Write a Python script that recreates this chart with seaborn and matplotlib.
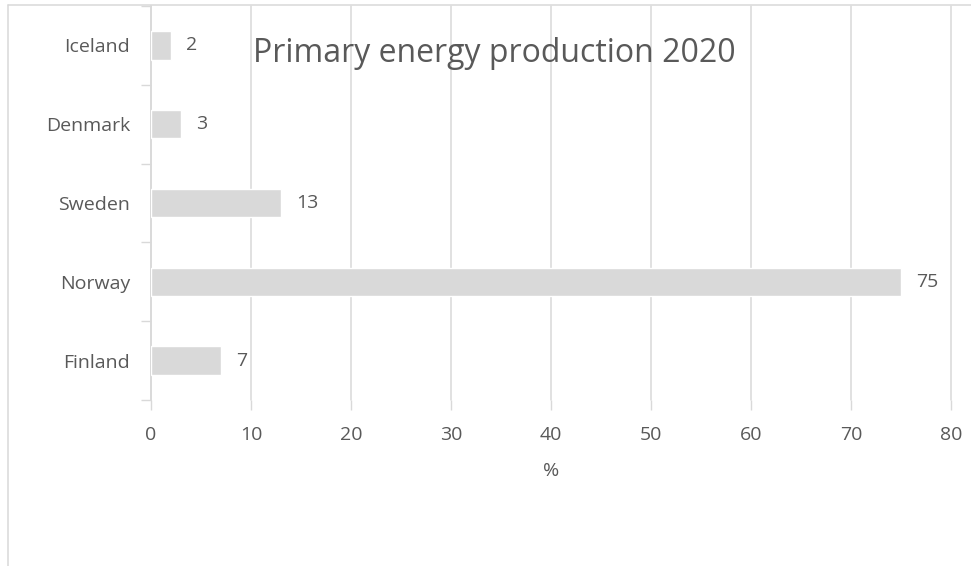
import matplotlib
matplotlib.use("Agg")
import matplotlib.pyplot as plt
import seaborn as sns
import pandas as pd
import numpy as np
from matplotlib.lines import Line2D

countries = ["Iceland", "Denmark", "Sweden", "Norway", "Finland"]
values = [2, 3, 13, 75, 7]
xticks = [0, 10, 20, 30, 40, 50, 60, 70, 80]
title = "Primary energy production 2020"
xlabel = "%"

sns.set_theme(style="white")
plt.rcParams["font.family"] = ["Open Sans", "DejaVu Sans"]

W, H = 971, 566
fig = plt.figure(figsize=(W / 100, H / 100), dpi=100)
ax = fig.add_axes([151 / W, 1 - 400 / H, (951 - 151) / W, (400 - 6) / H])

df = pd.DataFrame({"country": countries, "value": values})
grid_c = "#d9d9d9"
text_c = "#595959"
fs = 14

sns.barplot(data=df, x="value", y="country", order=countries, orient="h",
            color=grid_c, saturation=1, width=0.36, ax=ax, zorder=3)

ax.set_xlim(0, 80)
ax.set_ylim(4.5, -0.5)
ax.set_xticks(xticks)
ax.set_xticklabels([str(t) for t in xticks], color=text_c, fontsize=fs)
ax.tick_params(axis="x", length=7, color=grid_c, width=1.0, pad=11.5, bottom=True)
ax.set_yticks(range(len(countries)))
ax.set_yticklabels(countries, color=text_c, fontsize=fs)
ax.tick_params(axis="y", which="major", length=0, pad=15)
ax.set_yticks(np.arange(-0.5, len(countries), 1), minor=True)
ax.tick_params(axis="y", which="minor", length=7, color=grid_c, width=1.0, left=True)

for t in xticks:
    ax.axvline(t, color=grid_c, lw=1.1, zorder=1, clip_on=False)

for s in ["top", "right", "bottom"]:
    ax.spines[s].set_visible(False)
ax.spines["left"].set_color(grid_c)
ax.spines["left"].set_linewidth(1.1)
ax.grid(False)

for i, v in enumerate(values):
    ax.annotate(str(v), (v, i), xytext=(11, 0), textcoords="offset points",
                va="center", ha="left", color=text_c, fontsize=fs)

ax.set_xlabel(xlabel, color=text_c, fontsize=fs, labelpad=13)
ax.set_ylabel("")

fig.text(494 / W, 1 - 54 / H, title, ha="center", va="center",
         color=text_c, fontsize=23)

# chart border (partially visible)
fig.add_artist(Line2D([8 / W, 1.0], [1 - 5 / H, 1 - 5 / H], color=grid_c, lw=1.1))
fig.add_artist(Line2D([8 / W, 8 / W], [0, 1 - 5 / H], color=grid_c, lw=1.1))

fig.savefig("out.png", dpi=100, facecolor="white")
